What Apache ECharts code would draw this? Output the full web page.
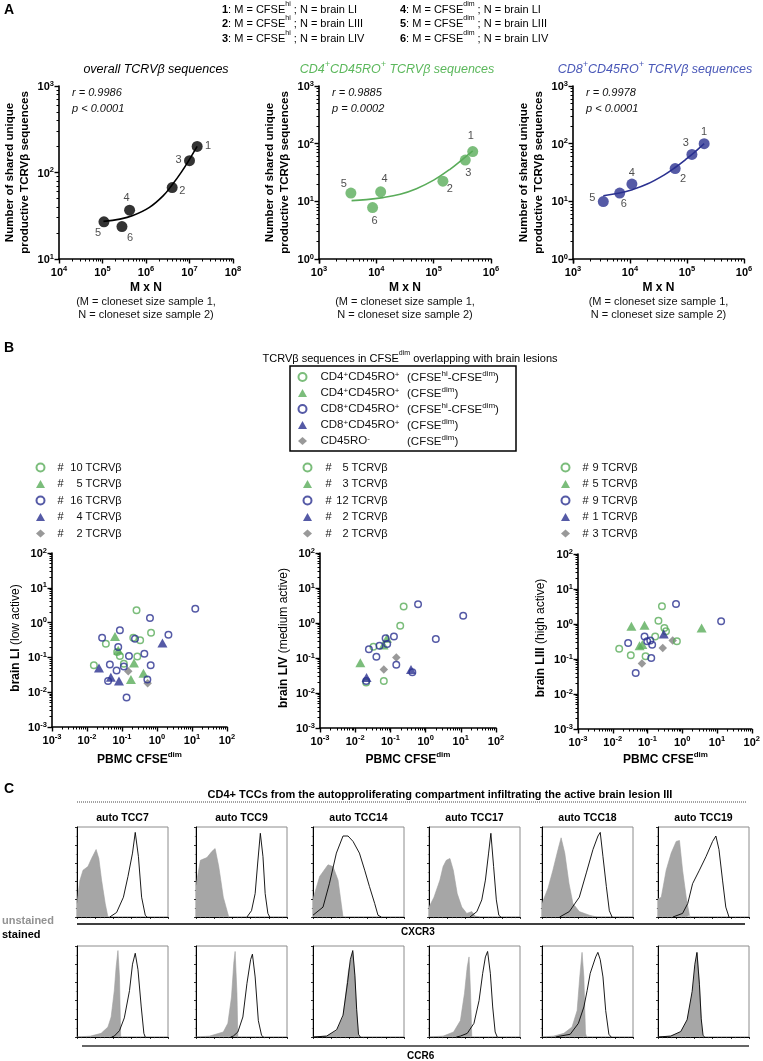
<!DOCTYPE html>
<html>
<head>
<meta charset="utf-8">
<title>TCRVβ overlap figure</title>
<script src="https://cdn.jsdelivr.net/npm/echarts@6.0.0/dist/echarts.min.js"></script>
<style>
html,body{margin:0;padding:0;background:#fff;}
#chart{width:763px;height:1061px;}
</style>
</head>
<body>
<div id="chart"></div>
<script>
// ================= Panel A data =================
const pointLabels = ['1', '2', '3', '4', '5', '6'];
const overallMN = [1.5e7, 4.0e6, 1.0e7, 4.2e5, 1.08e5, 2.8e5];
const overallShared = [200, 67, 137, 36.7, 26.9, 23.7];
const cd4MN = [4.8e5, 1.45e5, 3.56e5, 1.19e4, 3.6e3, 8.6e3];
const cd4Shared = [73, 22.4, 52, 14.6, 13.9, 7.8];
const cd8MN = [2.0e5, 6.2e4, 1.22e5, 1.08e4, 3.4e3, 6.6e3];
const cd8Shared = [100, 37, 65, 19.9, 9.9, 13.9];
const fitOverallMN = [1.05e5, 2.5e5, 5e5, 1.2e6, 2.5e6, 4e6, 6.5e6, 1e7, 1.5e7];
const fitOverallShared = [27.2, 28.9, 31.8, 39.5, 54, 72, 101, 142, 200];
const fitCd4MN = [3.7e3, 6.7e3, 1.3e4, 2.6e4, 5e4, 1e5, 1.95e5, 3.3e5, 4.8e5];
const fitCd4Shared = [10.3, 10.7, 11.6, 13.3, 16.6, 23.3, 36.3, 55, 75];
const fitCd8MN = [3.4e3, 6.6e3, 1.1e4, 2e4, 4e4, 6.2e4, 1e5, 1.4e5, 2e5];
const fitCd8Shared = [12.5, 13.9, 15.9, 19.9, 28.8, 38.6, 55.5, 73, 100];
const statsR = ['r = 0.9986', 'r = 0.9885', 'r = 0.9978'];
const statsP = ['p < 0.0001', 'p = 0.0002', 'p < 0.0001'];

// ================= Panel B data: [PBMC CFSEdim, brain] =================
const LI_cd4Open = [[0.26,2.25],[0.0346,0.248],[0.21,0.37],[0.33,0.31],[0.676,0.51],[0.073,0.143],[0.087,0.11],[0.274,0.107],[0.113,0.066],[0.0157,0.059]];
const LI_cd4Tri = [[0.063,0.40],[0.078,0.16],[0.22,0.069],[0.41,0.035],[0.18,0.023]];
const LI_cd8Open = [[12.4,2.5],[0.63,1.36],[0.087,0.6],[0.027,0.37],[0.078,0.2],[0.235,0.345],[2.12,0.45],[0.435,0.128],[0.158,0.11],[0.045,0.062],[0.113,0.055],[0.66,0.059],[0.07,0.042],[0.04,0.021],[0.53,0.023],[0.135,0.007]];
const LI_cd8Tri = [[1.43,0.26],[0.022,0.0496],[0.048,0.027],[0.082,0.021]];
const LI_roNeg = [[0.151,0.04],[0.54,0.018]];

const LIV_cd4Open = [[0.238,2.95],[0.19,0.84],[0.033,0.21],[0.0205,0.02],[0.065,0.022]];
const LIV_cd4Tri = [[0.014,0.073],[0.064,0.234],[0.08,0.365]];
const LIV_cd8Open = [[0.61,3.44],[11.7,1.6],[1.95,0.35],[0.126,0.41],[0.073,0.365],[0.081,0.25],[0.049,0.225],[0.0245,0.177],[0.04,0.109],[0.147,0.064],[0.42,0.039],[0.0205,0.022]];
const LIV_cd8Tri = [[0.021,0.0278],[0.385,0.047]];
const LIV_roNeg = [[0.147,0.104],[0.065,0.047]];

const LIII_cd4Open = [[0.26,3.2],[0.206,1.24],[0.306,0.77],[0.34,0.62],[0.166,0.44],[0.70,0.32],[0.0153,0.197],[0.033,0.127],[0.088,0.119]];
const LIII_cd4Tri = [[0.0344,0.86],[0.082,0.92],[0.059,0.24],[0.071,0.26],[3.6,0.77]];
const LIII_cd8Open = [[0.66,3.7],[13.1,1.19],[0.0277,0.286],[0.082,0.44],[0.098,0.32],[0.12,0.34],[0.136,0.257],[0.128,0.107],[0.0457,0.04]];
const LIII_cd8Tri = [[0.293,0.52]];
const LIII_roNeg = [[0.274,0.206],[0.53,0.34],[0.069,0.074]];

const lesionTitles = ['brain LI', 'brain LIV', 'brain LIII'];
const lesionActivity = [' (low active)', ' (medium active)', ' (high active)'];

// ================= Panel C data: [% of fluorescence range, % of max count] =================
const tccNames = ['auto TCC7', 'auto TCC9', 'auto TCC14', 'auto TCC17', 'auto TCC18', 'auto TCC19'];
const cxcr3_TCC7_unst = [[0,15],[3,40],[6.6,52],[12,56],[16,65],[21,75],[24,65],[27,41],[31,15],[34,0]];
const cxcr3_TCC7_st = [[36,0],[43.5,5],[51,22],[56,45],[61,71],[64,94],[67.5,67],[71,22],[75,2],[77,0]];
const cxcr3_TCC9_unst = [[0,35],[4.8,63],[12,66],[17.6,73],[21,76],[25,56],[30,22],[36,0]];
const cxcr3_TCC9_st = [[56,0],[61,7],[65,26],[67.8,60],[70.7,93],[73.6,67],[76,26],[79,4],[81,0]];
const cxcr3_TCC14_unst = [[0,20],[7.3,45],[16.5,58],[22,56],[27.5,41],[33,0]];
const cxcr3_TCC14_st = [[0,2],[11,11],[18,37],[25.7,71],[33,90],[38.5,90],[44,84],[51,71],[56.8,52],[62,34],[67.8,15],[71.4,2],[75,0]];
const cxcr3_TCC17_unst = [[0,11],[5.5,22],[12,41],[15.5,56],[19,63],[23,65],[26.7,52],[31,26],[36,11],[41.5,4],[47,6],[50.7,1],[56,0]];
const cxcr3_TCC17_st = [[45,0],[52.6,6],[58,19],[62,41],[65.5,71],[68,93],[71,56],[74,19],[76.7,2],[79,0]];
const cxcr3_TCC18_unst = [[0,15],[6.6,32],[12,52],[17.6,75],[21,88],[25,71],[29.7,37],[34,15],[41,6],[52,2],[60,0]];
const cxcr3_TCC18_st = [[19.4,0],[30,6],[41,22],[48.7,49],[56,75],[61.5,90],[64,94],[67,67],[70.7,34],[74,7],[77,0]];
const cxcr3_TCC19_unst = [[0,20],[3.6,22],[9,52],[14.5,71],[20,84],[23.6,85],[27,52],[31,22],[34.5,2],[36,0]];
const cxcr3_TCC19_st = [[16.4,0],[27,4],[32.7,15],[38,37],[45.5,52],[52.7,67],[60,84],[63.6,90],[67,75],[70.9,41],[74.5,11],[78,0]];

const ccr6_TCC7_unst = [[0,0],[15,1],[26.5,4],[34,11],[37.5,22],[41,51],[43,77],[45,95],[46.7,66],[48,0]];
const ccr6_TCC7_st = [[38,0],[41,1],[46.7,7],[52,21],[57.7,51],[61,80],[64,92],[67,74],[70.6,33],[73.5,4],[75,0]];
const ccr6_TCC9_unst = [[0,0],[15,1],[30,5.5],[35,15],[39,44],[41.5,81],[43,94],[45,48],[46,0]];
const ccr6_TCC9_st = [[38,0],[41,1],[46,5.5],[51.5,22],[56,59],[60,85],[62,91],[65,66],[68.5,18],[72,2],[74,0]];
const ccr6_TCC14_unst = [[0,0],[15,1],[26,7],[33,22],[39,73],[43.7,93],[46,66],[48,29],[50,0]];
const ccr6_TCC14_st = [[0,0],[15,1],[26,8],[33,24],[38,60],[41,85],[43.7,95],[46,68],[48,30],[50,3],[52,0]];
const ccr6_TCC17_unst = [[0,0],[15.7,1],[27,5.5],[34.5,18],[39,48],[42,77],[44,88],[45.7,48],[47,0]];
const ccr6_TCC17_st = [[30,0],[34.5,1],[42,4],[49.4,15],[55,40],[59,70],[62,88],[64.4,94],[67.4,70],[70,33],[72.7,5.5],[75,0]];
const ccr6_TCC18_unst = [[0,0],[13,1],[24,4],[33,11],[38.6,29],[41.5,66],[44,93],[46,66],[47.8,4],[49,0]];
const ccr6_TCC18_st = [[15,0],[20,1],[31,3],[40,15],[46,33],[49.6,51],[53,70],[59,88],[61.4,93],[64,85],[67,66],[70,29],[73.5,3],[76,0]];
const ccr6_TCC19_unst = [[0,0],[14,1],[25,5.5],[32,18],[37.7,48],[40.7,77],[43,92],[45.8,55],[47.6,18],[49,0]];
const ccr6_TCC19_st = [[0,0],[14,1],[25,6],[32,19],[37.5,50],[40.5,80],[42.8,93],[45.5,58],[47.5,20],[49.5,2],[51,0]];

// ================= styling / layout =================
const FONT = "'Liberation Sans', Arial, sans-serif";
const NARROW = "'Liberation Sans Narrow', 'Liberation Sans', Arial, sans-serif";
const GREEN = '#5aac5a';
const GREEN_T = '#5cb85c';
const NAVY = '#2b3190';
const BLUE_T = '#4a58b8';
const GRAY = '#7f7f7f';

const measureCtx = document.createElement('canvas').getContext('2d');
function textW(t, size, fam) { measureCtx.font = size + 'px ' + fam; return measureCtx.measureText(t).width; }

const grids = [], xAxes = [], yAxes = [], series = [], legends = [], graphics = [];
function addGrid(l, t, w, h, extra) {
  grids.push(Object.assign({left: l, top: t, width: w, height: h, containLabel: false}, extra || {}));
  return grids.length - 1;
}
const axisRich = {
  b: {fontSize: 11, fontWeight: 'bold', fontFamily: FONT, color: '#000', lineHeight: 13, verticalAlign: 'bottom'},
  s: {fontSize: 7.5, fontWeight: 'bold', fontFamily: FONT, color: '#000', lineHeight: 8, verticalAlign: 'top'}
};
function powLabel(v) { const e = Math.round(Math.log10(v)); return '{b|10}{s|' + e + '}'; }
function logAxis(dim, gi, min, max) {
  return {
    type: 'log', logBase: 10, gridIndex: gi, min: min, max: max, position: dim === 'x' ? 'bottom' : 'left',
    axisLine: {show: true, onZero: false, lineStyle: {color: '#000', width: 1.6}},
    axisTick: {show: true, inside: false, length: 4.5, lineStyle: {color: '#000', width: 1.4}},
    minorTick: {show: true, splitNumber: 9, length: 2.5, lineStyle: {color: '#000', width: 1}},
    splitLine: {show: false}, minorSplitLine: {show: false},
    axisLabel: {show: true, margin: dim === 'x' ? 6 : 5, formatter: powLabel, rich: axisRich, showMinLabel: true, showMaxLabel: true, hideOverlap: false}
  };
}
function histAxis(dim, gi) {
  return {
    type: 'value', gridIndex: gi, min: 0, max: 100, interval: 20, position: dim === 'x' ? 'bottom' : 'left',
    axisLine: {show: true, onZero: false, lineStyle: {color: '#000', width: 1}},
    axisTick: {show: true, length: 2, lineStyle: {color: '#000', width: 0.8}},
    minorTick: {show: true, splitNumber: dim === 'x' ? 4 : 2, length: 1.2, lineStyle: {color: '#444', width: 0.6}},
    axisLabel: {show: false}, splitLine: {show: false}, minorSplitLine: {show: false}
  };
}
function txt(x, y, text, st, rot) {
  const e = {type: 'text', x: x, y: y, silent: true, z: 50,
    style: Object.assign({text: text, fontFamily: FONT, fontSize: 11, fill: '#000', textAlign: 'left', textVerticalAlign: 'middle'}, st || {})};
  if (rot) e.rotation = rot;
  return e;
}
function richSet(size, family, color, italic, supRatio) {
  const fs = italic ? 'italic' : 'normal';
  const ss = Math.round(size * (supRatio || 0.68));
  return {
    n: {fontSize: size, fontFamily: family, fill: color, fontStyle: fs, lineHeight: size + 3, verticalAlign: 'bottom'},
    b: {fontSize: size, fontFamily: family, fill: color, fontStyle: fs, fontWeight: 'bold', lineHeight: size + 3, verticalAlign: 'bottom'},
    s: {fontSize: ss, fontFamily: family, fill: color, fontStyle: fs, lineHeight: ss + 1, verticalAlign: 'top'},
    bs: {fontSize: ss, fontFamily: family, fill: color, fontStyle: fs, fontWeight: 'bold', lineHeight: ss + 1, verticalAlign: 'top'}
  };
}

// ================= Panel A =================
graphics.push(txt(4, 10, 'A', {fontSize: 14, fontWeight: 'bold'}));
const headerRich = richSet(11, NARROW, '#000', false);
const headerRows = [
  ['1', 'hi', 'LI'], ['2', 'hi', 'LIII'], ['3', 'hi', 'LIV'],
  ['4', 'dim', 'LI'], ['5', 'dim', 'LIII'], ['6', 'dim', 'LIV']
];
headerRows.forEach(function (r, i) {
  const x = i < 3 ? 222 : 400, y = [8, 22, 37][i % 3];
  graphics.push(txt(x, y, '{b|' + r[0] + '}{n|: M = CFSE}{s|' + r[1] + '}{n| ; N = brain ' + r[2] + '}', {rich: headerRich}));
});

const aPanels = [
  {mn: overallMN, sh: overallShared, fx: fitOverallMN, fy: fitOverallShared, color: '#000', xr: [1e4, 1e8], yr: [10, 1000],
   box: [59, 86, 174, 173], off: [[11,0],[10,3],[-11,-1],[-3,-12],[-6,11],[8,11]],
   title: '{n|overall TCRVβ sequences}', tcol: '#000', tx: 156},
  {mn: cd4MN, sh: cd4Shared, fx: fitCd4MN, fy: fitCd4Shared, color: GREEN, xr: [1e3, 1e6], yr: [1, 1000],
   box: [319, 86, 172, 173], off: [[-2,-16],[7,8],[3,13],[4,-13],[-7,-9],[2,13]],
   title: '{n|CD4}{s|+}{n|CD45RO}{s|+}{n| TCRVβ sequences}', tcol: GREEN_T, tx: 397},
  {mn: cd8MN, sh: cd8Shared, fx: fitCd8MN, fy: fitCd8Shared, color: NAVY, xr: [1e3, 1e6], yr: [1, 1000],
   box: [573, 86, 171, 173], off: [[0,-12],[8,10],[-6,-11],[0,-11],[-11,-4],[4,11]],
   title: '{n|CD8}{s|+}{n|CD45RO}{s|+}{n| TCRVβ sequences}', tcol: BLUE_T, tx: 655}
];
aPanels.forEach(function (p, k) {
  const b = p.box;
  const gi = addGrid(b[0], b[1], b[2], b[3]);
  xAxes.push(logAxis('x', gi, p.xr[0], p.xr[1]));
  yAxes.push(logAxis('y', gi, p.yr[0], p.yr[1]));
  const ai = xAxes.length - 1;
  series.push({
    type: 'line', xAxisIndex: ai, yAxisIndex: ai, data: p.fx.map(function (x, i) { return [x, p.fy[i]]; }),
    symbol: 'none', smooth: 0.4, lineStyle: {color: p.color, width: 1.6}, z: 2, silent: true
  });
  series.push({
    type: 'scatter', xAxisIndex: ai, yAxisIndex: ai, symbol: 'circle', symbolSize: 11, z: 3,
    itemStyle: {color: p.color},
    label: {show: true, position: 'inside', color: '#222', fontSize: 11, fontFamily: FONT,
      formatter: function (q) { return pointLabels[q.dataIndex]; }},
    data: p.mn.map(function (x, i) { return {value: [x, p.sh[i]], label: {offset: p.off[i]}}; })
  });
  const cx = b[0] + b[2] / 2;
  graphics.push(txt(p.tx, 68, p.title, {textAlign: 'center', rich: richSet(12.5, FONT, p.tcol, true)}));
  graphics.push(txt(b[0] + 13, 93, statsR[k], {fontSize: 11, fontStyle: 'italic', fill: '#111'}));
  graphics.push(txt(b[0] + 13, 109, statsP[k], {fontSize: 11, fontStyle: 'italic', fill: '#111'}));
  graphics.push(txt(cx, 288, 'M x N', {fontSize: 12, fontWeight: 'bold', textAlign: 'center'}));
  graphics.push(txt(cx, 302, '(M = cloneset size sample 1,', {fontSize: 11, textAlign: 'center', fill: '#111'}));
  graphics.push(txt(cx, 315, 'N = cloneset size sample 2)', {fontSize: 11, textAlign: 'center', fill: '#111'}));
  graphics.push(txt(b[0] - 42, b[1] + b[3] / 2, 'Number of shared unique\nproductive TCRVβ sequences',
    {fontSize: 11.5, fontWeight: 'bold', textAlign: 'center', lineHeight: 15}, Math.PI / 2));
});

// ================= Panel B =================
graphics.push(txt(4, 348, 'B', {fontSize: 14, fontWeight: 'bold'}));
graphics.push(txt(410, 357, '{n|TCRVβ sequences in CFSE}{s|dim}{n| overlapping with brain lesions}',
  {textAlign: 'center', rich: richSet(11, NARROW, '#000', false)}));

const popStyles = [
  {symbol: 'circle', symbolSize: 6.5, itemStyle: {color: 'rgba(255,255,255,0)', borderColor: GREEN, borderWidth: 1.5}},
  {symbol: 'triangle', symbolSize: [10, 9], itemStyle: {color: GREEN}},
  {symbol: 'circle', symbolSize: 6.5, itemStyle: {color: 'rgba(255,255,255,0)', borderColor: NAVY, borderWidth: 1.5}},
  {symbol: 'triangle', symbolSize: [10, 9], itemStyle: {color: NAVY}},
  {symbol: 'diamond', symbolSize: 8.5, itemStyle: {color: GRAY}}
];
const popCol1 = ['{g| }{n|CD4}{s|+}{n|CD45RO}{s|+}', '{g| }{n|CD4}{s|+}{n|CD45RO}{s|+}',
  '{g| }{n|CD8}{s|+}{n|CD45RO}{s|+}', '{g| }{n|CD8}{s|+}{n|CD45RO}{s|+}', '{g| }{n|CD45RO}{s|-}'];
const popCol2 = ['{n|(CFSE}{s|hi}{n|-CFSE}{s|dim}{n|)}', '{n|(CFSE}{s|dim}{n|)}',
  '{n|(CFSE}{s|hi}{n|-CFSE}{s|dim}{n|)}', '{n|(CFSE}{s|dim}{n|)}', '{n|(CFSE}{s|dim}{n|)}'];

const bPanels = [
  {key: 'LI', sets: [LI_cd4Open, LI_cd4Tri, LI_cd8Open, LI_cd8Tri, LI_roNeg], box: [52, 553, 175, 174],
   leg: {iconX: 40, hashX: 57, numEnd: 82}, ytx: 14},
  {key: 'LIV', sets: [LIV_cd4Open, LIV_cd4Tri, LIV_cd8Open, LIV_cd8Tri, LIV_roNeg], box: [320, 553, 176, 175],
   leg: {iconX: 307, hashX: 325, numEnd: 348}, ytx: 282},
  {key: 'LIII', sets: [LIII_cd4Open, LIII_cd4Tri, LIII_cd8Open, LIII_cd8Tri, LIII_roNeg], box: [578, 554, 175, 175],
   leg: {iconX: 565, hashX: 582, numEnd: 598}, ytx: 539}
];
const countByName = {};
bPanels.forEach(function (p, k) {
  const b = p.box;
  const gi = addGrid(b[0], b[1], b[2], b[3]);
  xAxes.push(logAxis('x', gi, 1e-3, 1e2));
  yAxes.push(logAxis('y', gi, 1e-3, 1e2));
  const ai = xAxes.length - 1;
  const names = [];
  p.sets.forEach(function (d, j) {
    const nm = p.key + ' #' + j;
    names.push(nm);
    countByName[nm] = d.length;
    series.push(Object.assign({type: 'scatter', name: nm, xAxisIndex: ai, yAxisIndex: ai, data: d, z: j === 4 ? 3 : 4}, popStyles[j]));
  });
  // per-lesion count legend ("# n TCRVβ", n = number of plotted sequences)
  const L = p.leg;
  const textStart = L.iconX + 4.5 + 5;
  const field = L.numEnd - (L.hashX + 6);
  legends.push({
    show: true, selectedMode: false, orient: 'vertical', left: L.iconX - 4.5, top: 462, padding: 0,
    itemWidth: 9, itemHeight: 8, itemGap: 5.5, data: names,
    formatter: function (name) {
      const c = String(countByName[name]);
      return '{g| }{h|#}{' + (c.length === 1 ? 'pw' : 'pv') + '| }{n|' + c + '}{n| TCRVβ}';
    },
    textStyle: {
      fontFamily: FONT, fontSize: 11, color: '#111',
      rich: {
        g: {width: L.hashX - textStart, fontSize: 11, lineHeight: 12},
        h: {width: 6, fontSize: 11, fontFamily: FONT, color: '#111', lineHeight: 12},
        pw: {width: Math.max(1, field - textW('5', 11, FONT)), fontSize: 11, lineHeight: 12},
        pv: {width: Math.max(1, field - textW('10', 11, FONT)), fontSize: 11, lineHeight: 12},
        n: {fontSize: 11, fontFamily: FONT, color: '#111', lineHeight: 12}
      }
    }
  });
  // axis titles
  const cx = b[0] + b[2] / 2;
  graphics.push(txt(cx, 758, '{b|PBMC CFSE}{bs|dim}', {textAlign: 'center', rich: richSet(12, FONT, '#000', false)}));
  graphics.push(txt(p.ytx, 638, '{b|' + lesionTitles[k] + '}{n|' + lesionActivity[k] + '}',
    {textAlign: 'center', rich: richSet(12, FONT, '#000', false)}, Math.PI / 2));
});

// big boxed legend (population key)
const boxRich = {
  g: {width: 8.5, fontSize: 11.5, lineHeight: 12},
  n: {fontSize: 11.5, fontFamily: NARROW, color: '#111', lineHeight: 12, verticalAlign: 'bottom'},
  s: {fontSize: 8, fontFamily: NARROW, color: '#111', lineHeight: 8, verticalAlign: 'top'}
};
legends.push({
  show: true, selectedMode: false, orient: 'vertical', left: 297.5, top: 371, padding: 0,
  itemWidth: 9, itemHeight: 8, itemGap: 4, data: ['LI #0', 'LI #1', 'LI #2', 'LI #3', 'LI #4'],
  formatter: function (name) { return popCol1[+name.split('#')[1]]; },
  textStyle: {fontFamily: NARROW, fontSize: 11.5, color: '#111', rich: boxRich}
});
graphics.push({type: 'rect', silent: true, z: 40, shape: {x: 290, y: 366, width: 226, height: 85},
  style: {fill: 'none', stroke: '#000', lineWidth: 1.5}});
popCol2.forEach(function (t, i) {
  graphics.push(txt(407, 377 + 16 * i, t, {rich: richSet(11.5, NARROW, '#111', false, 0.72)}));
});

// ================= Panel C =================
graphics.push(txt(4, 789, 'C', {fontSize: 14, fontWeight: 'bold'}));
graphics.push(txt(440, 795, 'CD4+ TCCs from the autopproliferating compartment infiltrating the active brain lesion III',
  {textAlign: 'center', fontSize: 11, fontWeight: 'bold'}));
graphics.push({type: 'line', silent: true, shape: {x1: 77, y1: 802, x2: 747, y2: 802},
  style: {stroke: '#444', lineWidth: 1, lineDash: [1, 1]}});
const cxcrUnst = [cxcr3_TCC7_unst, cxcr3_TCC9_unst, cxcr3_TCC14_unst, cxcr3_TCC17_unst, cxcr3_TCC18_unst, cxcr3_TCC19_unst];
const cxcrSt = [cxcr3_TCC7_st, cxcr3_TCC9_st, cxcr3_TCC14_st, cxcr3_TCC17_st, cxcr3_TCC18_st, cxcr3_TCC19_st];
const ccrUnst = [ccr6_TCC7_unst, ccr6_TCC9_unst, ccr6_TCC14_unst, ccr6_TCC17_unst, ccr6_TCC18_unst, ccr6_TCC19_unst];
const ccrSt = [ccr6_TCC7_st, ccr6_TCC9_st, ccr6_TCC14_st, ccr6_TCC17_st, ccr6_TCC18_st, ccr6_TCC19_st];
const hLefts = [77, 196, 313, 429, 542, 658];
[[cxcrUnst, cxcrSt, 827, 90], [ccrUnst, ccrSt, 946, 91]].forEach(function (row) {
  hLefts.forEach(function (l, i) {
    const gi = addGrid(l, row[2], 91, row[3], {show: true, borderColor: '#8c8c8c', borderWidth: 1, backgroundColor: '#fff'});
    xAxes.push(histAxis('x', gi));
    yAxes.push(histAxis('y', gi));
    const ai = xAxes.length - 1;
    series.push({type: 'line', xAxisIndex: ai, yAxisIndex: ai, data: row[0][i], symbol: 'none', silent: true,
      lineStyle: {color: '#9f9f9f', width: 0.6}, areaStyle: {color: '#a6a6a6', opacity: 1}, z: 2});
    series.push({type: 'line', xAxisIndex: ai, yAxisIndex: ai, data: row[1][i], symbol: 'none', silent: true,
      lineStyle: {color: '#000', width: 0.9}, z: 3});
  });
});
hLefts.forEach(function (l, i) {
  graphics.push(txt(l + 45.5, 818, tccNames[i], {textAlign: 'center', fontSize: 10.5, fontWeight: 'bold'}));
});
graphics.push({type: 'line', silent: true, shape: {x1: 77, y1: 924, x2: 745, y2: 924}, style: {stroke: '#000', lineWidth: 1.5}});
graphics.push({type: 'line', silent: true, shape: {x1: 82, y1: 1046, x2: 749, y2: 1046}, style: {stroke: '#333', lineWidth: 1.5}});
graphics.push(txt(401, 932, 'CXCR3', {fontSize: 10, fontWeight: 'bold'}));
graphics.push(txt(407, 1056, 'CCR6', {fontSize: 10, fontWeight: 'bold'}));
graphics.push(txt(2, 921, 'unstained', {fontSize: 11, fontWeight: 'bold', fill: '#929292'}));
graphics.push(txt(2, 935, 'stained', {fontSize: 11, fontWeight: 'bold', fill: '#000'}));

const chart = echarts.init(document.getElementById('chart'), null, {renderer: 'canvas'});
chart.setOption({
  animation: false,
  backgroundColor: '#fff',
  grid: grids, xAxis: xAxes, yAxis: yAxes, series: series, legend: legends,
  graphic: {elements: graphics}
});
</script>
</body>
</html>
